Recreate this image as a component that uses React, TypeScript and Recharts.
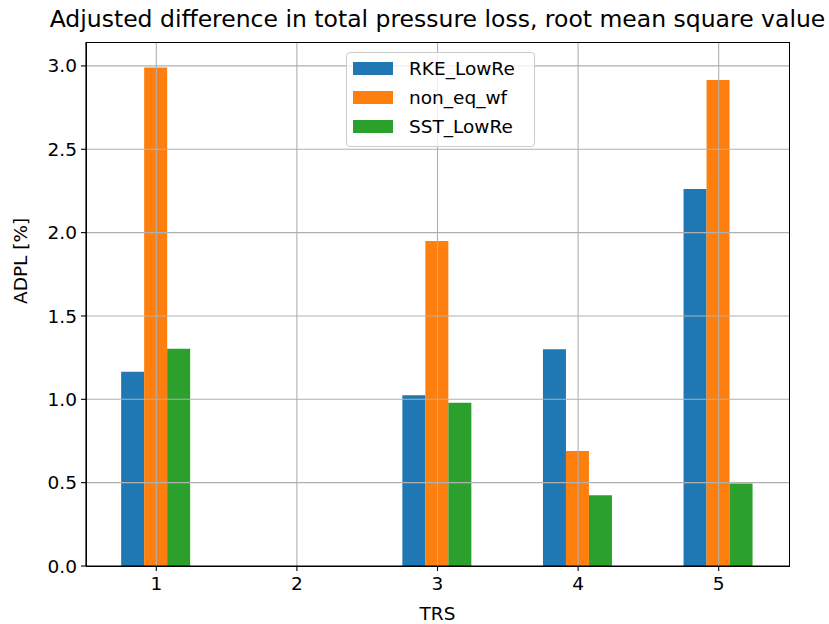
import React from 'react';
import {
    BarChart,
    Bar,
    XAxis,
    YAxis,
    ReferenceLine,
    Label,
} from 'recharts';

const trs = ['1', '2', '3', '4', '5'];
const rkeLowRe = [1.165, null, 1.025, 1.3, 2.262];
const nonEqWf = [2.99, null, 1.95, 0.69, 2.916];
const sstLowRe = [1.303, null, 0.98, 0.425, 0.495];
const yTicks = [0, 0.5, 1.0, 1.5, 2.0, 2.5, 3.0];

const series = [
    { key: 'RKE_LowRe', color: '#1f77b4' },
    { key: 'non_eq_wf', color: '#ff7f0e' },
    { key: 'SST_LowRe', color: '#2ca02c' },
];

const data = trs.map((t, i) => ({
    trs: t,
    RKE_LowRe: rkeLowRe[i],
    non_eq_wf: nonEqWf[i],
    SST_LowRe: sstLowRe[i],
}));

const FONT = '"DejaVu Sans", sans-serif';
const GRID = '#b0b0b0';

// plot box in page pixels
const PLOT = { left: 86, top: 42, width: 703, height: 524 };

// legend sits inside the axes, top centre
const LegendBox = () => (
    <div
        style={{
            position: 'absolute',
            left: 346,
            top: 52,
            width: 181,
            height: 92,
            border: '1px solid #cccccc',
            borderRadius: 4,
            background: 'rgba(255,255,255,0.8)',
            padding: '1px 0 0 6px',
            fontFamily: FONT,
            fontSize: 18.5,
            color: '#000',
        }}
    >
        {series.map((s) => (
            <div key={s.key} style={{ display: 'flex', alignItems: 'center', height: 29 }}>
                <span style={{ width: 40, height: 13, background: s.color, marginRight: 16 }} />
                <span>{s.key}</span>
            </div>
        ))}
    </div>
);

export default function App() {
    return (
        <div style={{ position: 'absolute', left: 0, top: 0, width: 829, height: 624, background: '#fff' }}>
            <BarChart
                width={829}
                height={624}
                data={data}
                margin={{ top: PLOT.top, right: 829 - PLOT.left - PLOT.width, bottom: 0, left: 0 }}
                barCategoryGap="25%"
                barGap={0}
                style={{ fontFamily: FONT }}
            >
                <XAxis
                    dataKey="trs"
                    height={624 - PLOT.top - PLOT.height}
                    tick={{ fill: '#000', fontSize: 18.5 }}
                    tickLine={{ stroke: '#000', strokeWidth: 1.1 }}
                    tickSize={5}
                    tickMargin={6}
                    axisLine={{ stroke: '#000', strokeWidth: 1.2 }}
                >
                    <Label value="TRS" position="insideBottom" offset={4} fill="#000" fontSize={18.5} />
                </XAxis>
                <YAxis
                    width={PLOT.left}
                    domain={[0, 3.1435]}
                    ticks={yTicks}
                    tickFormatter={(v: number) => v.toFixed(1)}
                    tick={{ fill: '#000', fontSize: 18.5 }}
                    tickLine={{ stroke: '#000', strokeWidth: 1.1 }}
                    tickSize={5}
                    tickMargin={4}
                    axisLine={{ stroke: '#000', strokeWidth: 1.2 }}
                    allowDataOverflow
                >
                    <Label value="ADPL [%]" angle={-90} position="insideLeft" offset={20} fill="#000" fontSize={18.5} />
                </YAxis>
                {series.map((s) => (
                    <Bar key={s.key} dataKey={s.key} fill={s.color} isAnimationActive={false} />
                ))}
                {/* grid goes on top of the bars */}
                {yTicks.slice(1).map((v) => (
                    <ReferenceLine key={'h' + v} y={v} stroke={GRID} strokeWidth={1.1} />
                ))}
                {trs.map((t) => (
                    <ReferenceLine key={'v' + t} x={t} stroke={GRID} strokeWidth={1.1} />
                ))}
            </BarChart>
            {/* full axes frame */}
            <div
                style={{
                    position: 'absolute',
                    left: PLOT.left - 0.5,
                    top: PLOT.top - 0.5,
                    width: PLOT.width - 1,
                    height: PLOT.height - 1,
                    border: '1.2px solid #000',
                    pointerEvents: 'none',
                }}
            />
            <div
                style={{
                    position: 'absolute',
                    left: 0,
                    width: 875,
                    top: 5,
                    textAlign: 'center',
                    fontFamily: FONT,
                    fontSize: 23.5,
                    color: '#000',
                    whiteSpace: 'nowrap',
                }}
            >
                Adjusted difference in total pressure loss, root mean square value
            </div>
            <LegendBox />
        </div>
    );
}
